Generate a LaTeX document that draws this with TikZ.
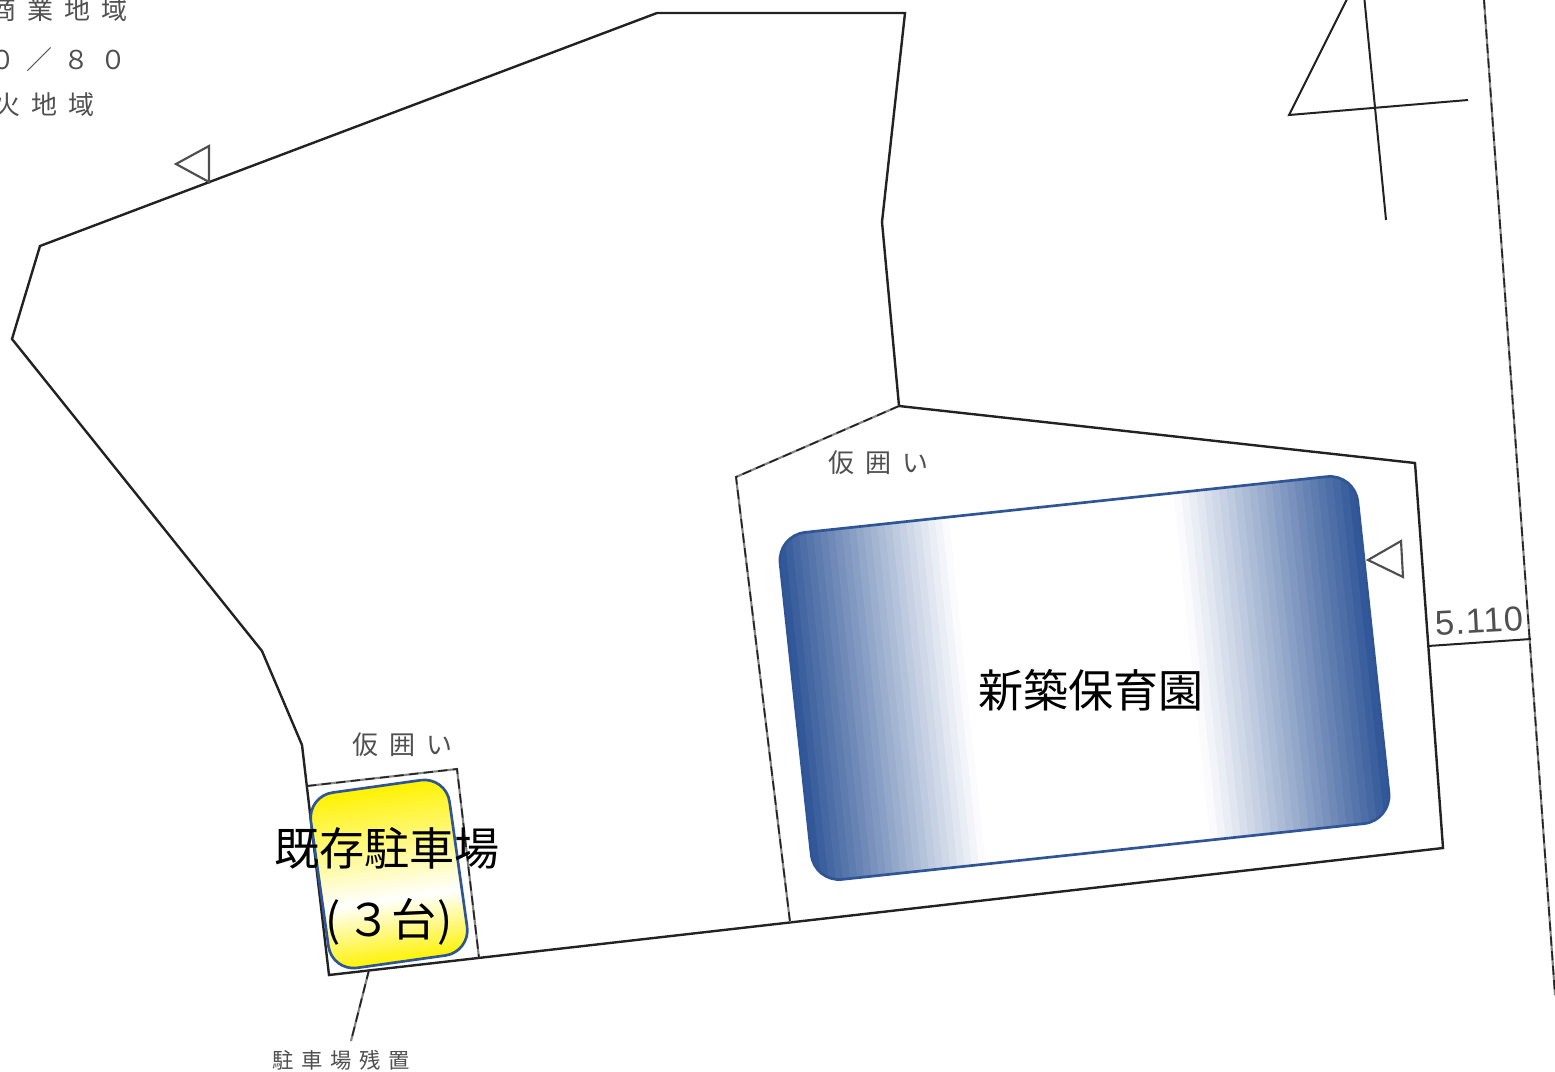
\documentclass[tikz,border=0pt]{standalone}
\usepackage{fontspec}
\newfontfamily\jpbig{Noto Sans CJK JP}
\newfontfamily\jpsmall[LetterSpace=42]{Noto Sans CJK JP}
\newfontfamily\jpsmaller[LetterSpace=36]{Noto Sans CJK JP}
\newfontfamily\latinsmall[LetterSpace=3]{Liberation Sans}
\definecolor{bandblue}{HTML}{2F5597}
\definecolor{inkline}{HTML}{222222}
\definecolor{inktext}{HTML}{505050}
\tikzset{
  plan/.style={draw=inkline,line width=1.8pt,line join=miter},
  thin plan/.style={draw=inkline!55,line width=1.6pt,line join=miter,
    postaction={draw=inkline,line width=1.2pt,dash pattern=on 7pt off 4pt}},
  mark tri/.style={draw=inkline!80,line width=1.6pt},
  big label/.style={inner sep=0pt,text=black,font={\jpbig\fontsize{33.8}{36}\selectfont}},
  small label/.style={inner sep=0pt,text=inktext,font={\jpsmall\fontsize{19.5}{22}\selectfont}},
  tiny label/.style={inner sep=0pt,text=inktext,font={\jpsmaller\fontsize{16}{18}\selectfont}},
  outline box/.style={draw=bandblue,line width=2pt}
}
\begin{document}
\begin{tikzpicture}[x=0.75pt,y=-0.75pt]
\useasboundingbox (0,0) rectangle (1555,1071);
\clip (0,0) rectangle (1555,1071);
\fill[white] (0,0) rectangle (1555,1071);
% site outline
\draw[plan] (657,13) -- (905,13) -- (882,222) -- (899,406) -- (1415,463) -- (1443,848)
  -- (329,975) -- (302,745) -- (262,651) -- (12,339) -- (40,246) -- cycle;
% temporary fences
\draw[thin plan] (899,406) -- (736,477) -- (790,922);
\draw[thin plan] (307,786) -- (457,769) -- (479,958);
% leader
\draw[thin plan] (369,970) -- (351,1041);
% markers
\draw[mark tri] (209,182) -- (209,146) -- (176,164) -- cycle;
\draw[mark tri] (1403,577) -- (1401,541) -- (1368,560) -- cycle;
% north symbol
\draw[plan,line width=1.5pt] (1364,-5) -- (1386,220);
\draw[plan,line width=1.5pt] (1349,-5) -- (1289,115) -- (1468,100);
% road line and dimension
\draw[thin plan] (1484,0) -- (1555,995);
\draw[plan,line width=1.5pt] (1428,646) -- (1531,639);
% blue building
\begin{scope}[shift={(1084.5,678)},rotate=6.1]
  \begin{scope}
    \clip[rounded corners=21pt] (-290.5,-174.5) rectangle (290.5,174.5);
    \foreach \i in {0,...,23}{
      \pgfmathsetmacro{\shadeval}{100*(1-(\i+0.5)/24)}
      \pgfmathsetmacro{\xa}{-290.5+\i*7.2}
      \fill[bandblue!\shadeval!white] (\xa,-175) rectangle (-60,175);
      \pgfmathsetmacro{\xb}{290.5-\i*7.6}
      \fill[bandblue!\shadeval!white] (\xb,-175) rectangle (60,175);
    }
    \fill[white] (-118,-176) rectangle (108,176);
  \end{scope}
  \draw[outline box,rounded corners=21pt] (-290.5,-174.5) rectangle (290.5,174.5);
\end{scope}
% yellow parking
\begin{scope}[shift={(389,874)},rotate=8]
  \begin{scope}
    \clip[rounded corners=19pt] (-70,-88.5) rectangle (70,88.5);
    \foreach \i in {0,...,89}{
      \pgfmathsetmacro{\ya}{-89+\i*2}
      \pgfmathsetmacro{\tval}{\ya<25 ? 100*(25-\ya)/114 : 100*(\ya-25)/64}
      \fill[yellow!\tval!white] (-71,\ya) rectangle (71,89);
    }
  \end{scope}
  \draw[outline box,rounded corners=19pt] (-70,-88.5) rectangle (70,88.5);
\end{scope}
% labels
\node[big label] (newbuild) at (1091,690) {新築保育園};
\node[big label] (parkA) at (387,848) {既存駐車場};
\node[big label] (parkB) at (389,922) {(\hspace{0.13em}３台)};
\node[small label,anchor=west] (fenceA) at (828,463) {仮囲い};
\node[small label,anchor=west] (fenceB) at (352,745) {仮囲い};
\node[tiny label,anchor=west] (remain) at (272,1060) {駐車場残置};
\node[small label,anchor=west] (zoneA) at (-10,10) {商業地域};
\node[small label,anchor=west] (zoneB) at (-11,60) {０／８０};
\node[small label,anchor=west] (zoneC) at (-6,105) {火地域};
\node[inner sep=0pt,text=inktext,anchor=center,rotate=3,font={\latinsmall\fontsize{26}{28}\selectfont}] (dim) at (1479,621) {5.110};
\end{tikzpicture}
\end{document}
